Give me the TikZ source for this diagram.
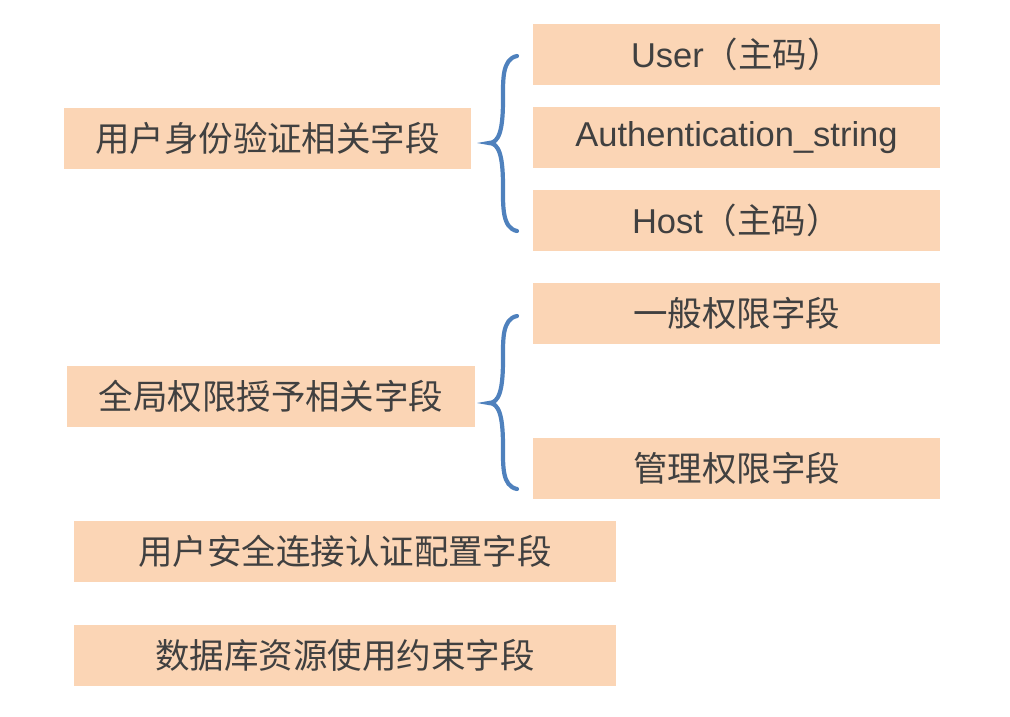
\documentclass[tikz,border=0pt]{standalone}
\usepackage{fontspec}
\setmainfont{Liberation Sans}
\newfontfamily\cjk{Noto Sans CJK SC}
\newfontfamily\lat{Liberation Sans}
\definecolor{boxfill}{HTML}{FBD5B5}
\definecolor{txt}{HTML}{404040}
\definecolor{bracecol}{HTML}{4F81BD}
\begin{document}
\begin{tikzpicture}[x=1pt,y=-1pt,
  box/.style={fill=boxfill, draw=none, inner sep=0pt, minimum height=61pt, text=txt, font=\fontsize{34.5}{38}\selectfont\cjk},
  rbox/.style={box, minimum width=407pt},
  lbox/.style={box, minimum width=542pt},
  bracepath/.style={draw=bracecol, line width=4.2pt, line cap=round}]
\useasboundingbox (0,0) rectangle (1010,716);
\node[box, minimum width=407pt] (a) at (267.5,138) {用户身份验证相关字段};
\node[rbox] (u) at (736.5,54.5) {{\lat User}（主码）};
\node[rbox] (au) at (736.5,137.5) {\lat Authentication\_string};
\node[rbox] (h) at (736.5,220.5) {{\lat Host}（主码）};
\node[rbox] (g) at (736.5,313.5) {一般权限字段};
\node[rbox] (m) at (736.5,468.5) {管理权限字段};
\node[box, minimum width=408pt] (b) at (271,396.5) {全局权限授予相关字段};
\node[lbox] (c) at (345,551.5) {用户安全连接认证配置字段};
\node[lbox] (d) at (345,655.5) {数据库资源使用约束字段};
\draw[bracepath] (517,56) .. controls (502,59) and (503,80) .. (503,100)
  .. controls (503,130) and (499,143) .. (489,143)
  .. controls (499,143) and (503,156) .. (503,186)
  .. controls (503,206) and (502,228) .. (517,231);
\draw[bracepath] (517,316) .. controls (502,319) and (503,340) .. (503,360)
  .. controls (503,390) and (499,403) .. (489,403)
  .. controls (499,403) and (503,416) .. (503,446)
  .. controls (503,466) and (502,486) .. (517,489);
\end{tikzpicture}
\end{document}
